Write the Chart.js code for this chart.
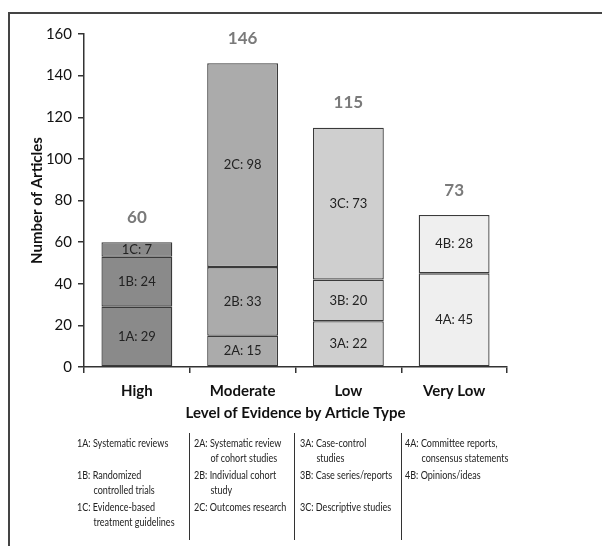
<!DOCTYPE html>
<html>
<head>
<meta charset="utf-8">
<script src="https://cdn.jsdelivr.net/npm/chart.js@4.4.0/dist/chart.umd.min.js"></script>
<style>
  html, body { margin: 0; padding: 0; background: #fff; overflow: hidden; }
  #wrap { position: relative; width: 602px; height: 546px; }
  #frame { position: absolute; left: 8px; top: 12px; width: 700px; height: 600px; border: 2px solid #444; box-sizing: border-box; }
  canvas { position: absolute; left: 0; top: 0; }
  .leg { position: absolute; font-family: Lato, "Liberation Sans", sans-serif; font-size: 11px; line-height: 15px; color: #222; transform: scaleX(0.82); transform-origin: 0 0; }
  .leg div { position: absolute; white-space: nowrap; }
  .sep { position: absolute; top: 433px; height: 107px; width: 0; border-left: 1.5px solid #333; }
</style>
</head>
<body>
<div id="wrap">
  <div id="frame"></div>
  <canvas id="grafico" width="602" height="546"></canvas>
  <div id="legenda"></div>
</div>
<script>
// dados
const categorias = ['High', 'Moderate', 'Low', 'Very Low'];
const codigosA = ['1A', '2A', '3A', '4A'];
const codigosB = ['1B', '2B', '3B', '4B'];
const codigosC = ['1C', '2C', '3C', null];
const valoresA = [29, 15, 22, 45];
const valoresB = [24, 33, 20, 28];
const valoresC = [7, 98, 73, null];
const totais = [60, 146, 115, 73];
const yTicks = [0, 20, 40, 60, 80, 100, 120, 140, 160];

const cores = ['#8a8a8a', '#ababab', '#cfcfcf', '#efefef'];

// legenda (colunas)
const legendaColunas = [
  [['1A:', 'Systematic reviews'], ['1B:', 'Randomized', 'controlled trials'], ['1C:', 'Evidence-based', 'treatment guidelines']],
  [['2A:', 'Systematic review', 'of cohort studies'], ['2B:', 'Individual cohort', 'study'], ['2C:', 'Outcomes research']],
  [['3A:', 'Case-control', 'studies'], ['3B:', 'Case series/reports'], ['3C:', 'Descriptive studies']],
  [['4A:', 'Committee reports,', 'consensus statements'], ['4B:', 'Opinions/ideas']]
];

const fonte = 'Lato, "Liberation Sans", sans-serif';

function dataset(valores, codigos) {
  return {
    data: valores,
    codigos: codigos,
    backgroundColor: cores,
    borderColor: '#3a3a3a',
    borderWidth: 1.3,
    borderSkipped: false,
    barPercentage: 0.67,
    categoryPercentage: 1.0
  };
}

const rotulos = {
  id: 'rotulos',
  afterDatasetsDraw(chart) {
    const ctx = chart.ctx;
    ctx.save();
    ctx.textAlign = 'center';
    ctx.textBaseline = 'middle';
    ctx.fillStyle = '#222';
    ctx.font = '13px ' + fonte;
    chart.data.datasets.forEach((ds, i) => {
      const meta = chart.getDatasetMeta(i);
      meta.data.forEach((bar, j) => {
        if (ds.data[j] == null) return;
        const y = (bar.y + bar.base) / 2;
        ctx.fillText(ds.codigos[j] + ': ' + ds.data[j], bar.x, y);
      });
    });
    ctx.font = 'bold 17px ' + fonte;
    ctx.fillStyle = '#7a7a7a';
    const meta0 = chart.getDatasetMeta(0);
    totais.forEach((t, j) => {
      const x = meta0.data[j].x;
      const y = chart.scales.y.getPixelForValue(t) - 25;
      ctx.fillText(String(t), x, y);
    });
    ctx.restore();
  }
};

new Chart(document.getElementById('grafico').getContext('2d'), {
  type: 'bar',
  data: {
    labels: categorias,
    datasets: [dataset(valoresA, codigosA), dataset(valoresB, codigosB), dataset(valoresC, codigosC)]
  },
  options: {
    responsive: false,
    animation: false,
    layout: { padding: { left: 26, top: 34, right: 95, bottom: 120 } },
    plugins: { legend: { display: false }, tooltip: { enabled: false } },
    scales: {
      x: {
        stacked: true,
        offset: true,
        afterFit: s => { s.height = 59; },
        grid: { offset: true, drawOnChartArea: false, tickLength: 6, color: '#333', lineWidth: 1.5 },
        border: { color: '#333', width: 1.5 },
        ticks: { color: '#111', font: { family: fonte, size: 15, weight: 'bold' }, padding: 9 },
        title: { display: true, text: 'Level of Evidence by Article Type', color: '#111', font: { family: fonte, size: 15, weight: 'bold' }, padding: { top: 7 } }
      },
      y: {
        stacked: true,
        min: 0,
        max: 160,
        afterFit: s => { s.width = 58; },
        afterBuildTicks: s => { s.ticks = yTicks.map(v => ({ value: v })); },
        grid: { drawOnChartArea: false, tickLength: 6, color: '#333', lineWidth: 1.5 },
        border: { color: '#333', width: 1.5 },
        ticks: { color: '#111', font: { family: fonte, size: 15 }, padding: 6 },
        title: { display: true, text: 'Number of Articles', color: '#111', font: { family: fonte, size: 15, weight: 'bold' }, padding: { top: 2, bottom: 2 } }
      }
    }
  },
  plugins: [rotulos]
});

// legenda em HTML
const legenda = document.getElementById('legenda');
const colX = [77, 194, 300, 405];
const linhaY = [435, 467, 499];
legendaColunas.forEach((col, c) => {
  const bloco = document.createElement('div');
  bloco.className = 'leg';
  bloco.style.left = colX[c] + 'px';
  bloco.style.top = '0px';
  col.forEach((item, r) => {
    const el = document.createElement('div');
    el.style.top = linhaY[r] + 'px';
    el.style.left = '0px';
    const cod = document.createElement('span');
    cod.textContent = item[0] + ' ';
    el.appendChild(cod);
    el.appendChild(document.createTextNode(item[1]));
    if (item[2]) {
      el.appendChild(document.createElement('br'));
      const ind = document.createElement('span');
      ind.style.paddingLeft = '20px';
      ind.textContent = item[2];
      el.appendChild(ind);
    }
    bloco.appendChild(el);
  });
  legenda.appendChild(bloco);
});
[189, 294, 401].forEach(x => {
  const s = document.createElement('div');
  s.className = 'sep';
  s.style.left = x + 'px';
  legenda.appendChild(s);
});
</script>
</body>
</html>
